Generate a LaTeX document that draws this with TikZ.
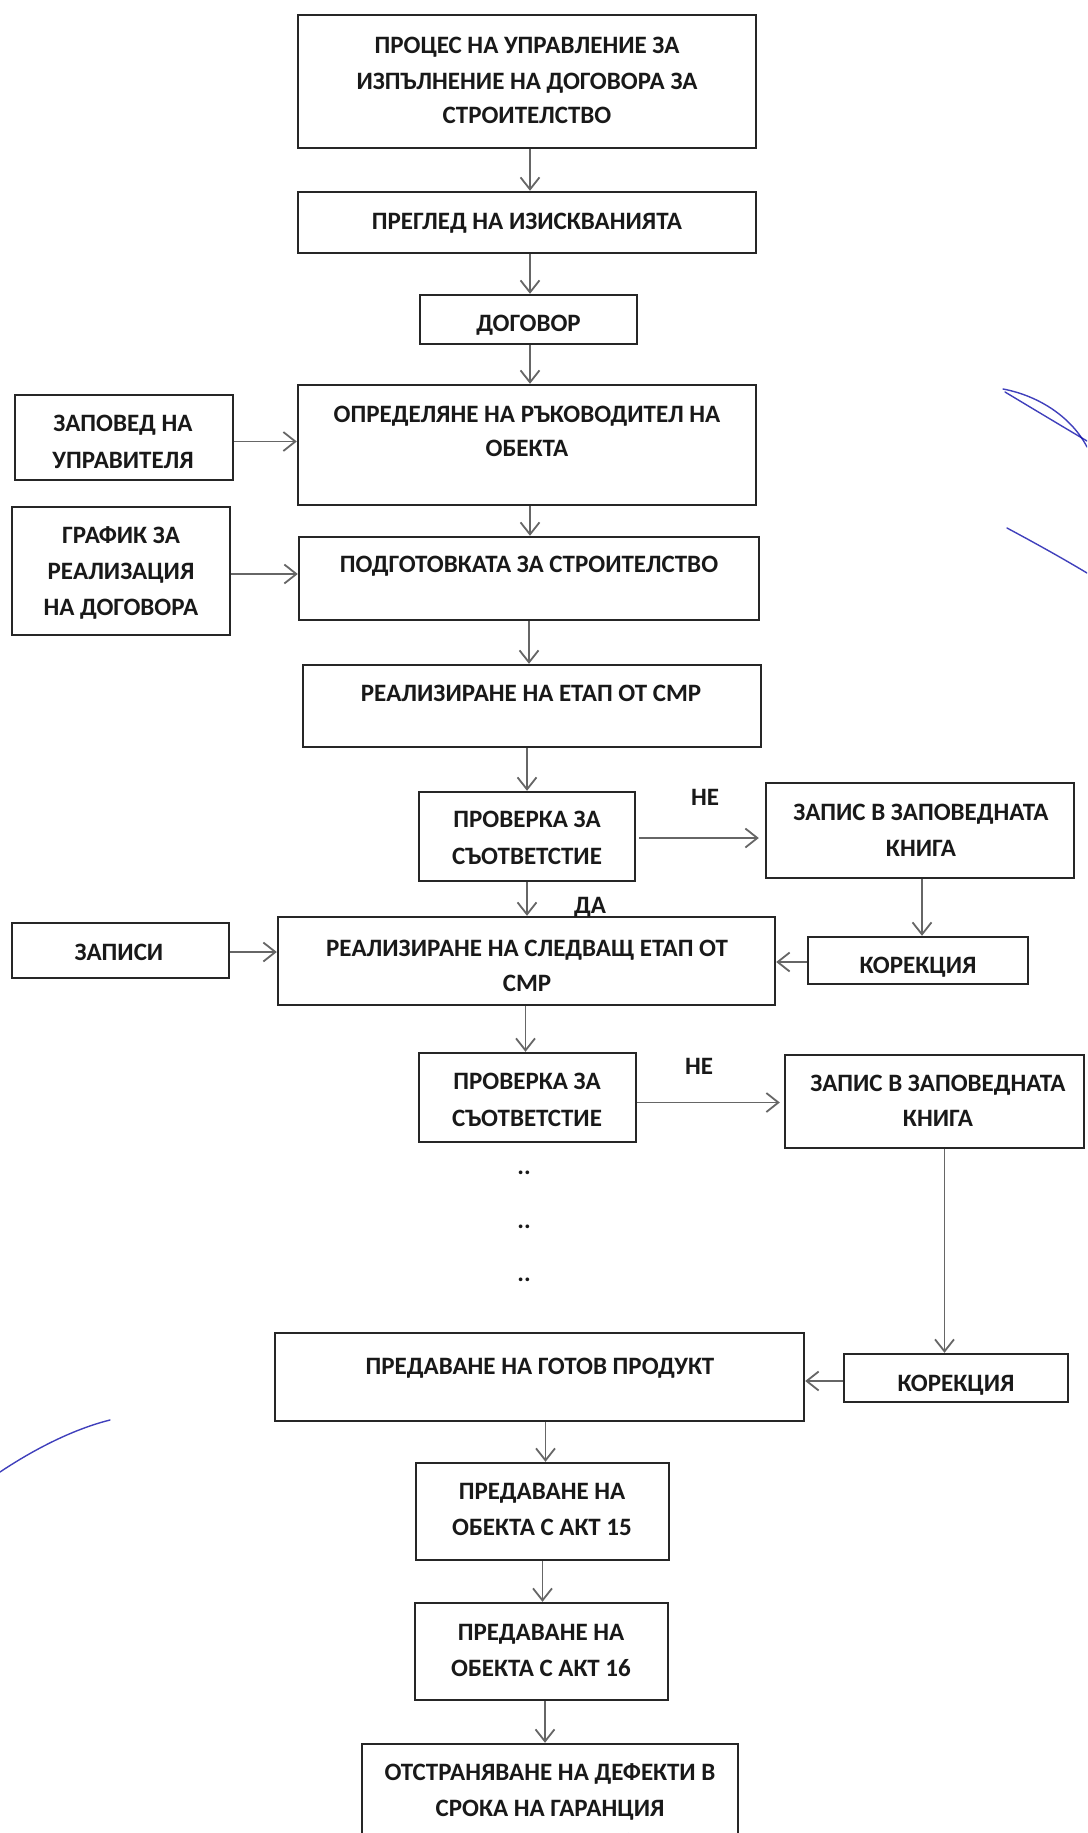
\documentclass[tikz,border=0pt]{standalone}
\usepackage{fontspec}
\setmainfont{Carlito}
\usetikzlibrary{arrows.meta}
\begin{document}
\begin{tikzpicture}[x=1pt,y=-1pt,
  box/.style={draw=black!85, line width=2.4pt, inner sep=0pt, fill=none},
  txt/.style={font=\bfseries\fontsize{25}{36}\selectfont, anchor=base, inner sep=0pt, text=black!90},
  arr/.style={draw=black!60, line width=1.8pt, -{Straight Barb[length=12pt,width=19pt,line width=1.8pt]}},
  pen/.style={draw=blue!65!black, line width=1.4pt, opacity=0.75, line cap=round}]
\useasboundingbox (0,0) rectangle (1087,1833);
\clip (0,0) rectangle (1087,1833);
\fill[white] (0,0) rectangle (1087,1833);

% boxes
\node[box, minimum width=458pt, minimum height=133pt] (b1) at (527,81.5) {};
\node[box, minimum width=458pt, minimum height=61pt]  (b2) at (527,222.5) {};
\node[box, minimum width=217pt, minimum height=49pt]  (b3) at (528.5,319.5) {};
\node[box, minimum width=458pt, minimum height=120pt] (b4) at (527,445) {};
\node[box, minimum width=218pt, minimum height=85pt]  (lA) at (124,437.5) {};
\node[box, minimum width=218pt, minimum height=128pt] (lB) at (121,571) {};
\node[box, minimum width=460pt, minimum height=83pt]  (b5) at (529,578.5) {};
\node[box, minimum width=458pt, minimum height=82pt]  (b6) at (532,706) {};
\node[box, minimum width=216pt, minimum height=89pt]  (b7) at (527,836.5) {};
\node[box, minimum width=308pt, minimum height=95pt]  (b8) at (920,830.5) {};
\node[box, minimum width=497pt, minimum height=88pt]  (b9) at (526.5,961) {};
\node[box, minimum width=217pt, minimum height=55pt]  (lC) at (120.5,950.5) {};
\node[box, minimum width=220pt, minimum height=47pt]  (k1) at (918,960.5) {};
\node[box, minimum width=217pt, minimum height=89pt]  (b11) at (527.5,1097.5) {};
\node[box, minimum width=299pt, minimum height=93pt]  (b12) at (934.5,1101.5) {};
\node[box, minimum width=529pt, minimum height=88pt]  (b13) at (539.5,1377) {};
\node[box, minimum width=224pt, minimum height=48pt]  (k2) at (956,1378) {};
\node[box, minimum width=253pt, minimum height=97pt]  (b15) at (542.5,1511.5) {};
\node[box, minimum width=253pt, minimum height=97pt]  (b16) at (541.5,1651.5) {};
\node[box, minimum width=376pt, minimum height=116pt] (b17) at (550,1802) {};

% texts
\node[txt] (t1a) at (527,54) {ПРОЦЕС НА УПРАВЛЕНИЕ ЗА};
\node[txt] (t1b) at (527,90) {ИЗПЪЛНЕНИЕ НА ДОГОВОРА ЗА};
\node[txt] (t1c) at (527,124) {СТРОИТЕЛСТВО};
\node[txt] (t2) at (527,229) {ПРЕГЛЕД НА ИЗИСКВАНИЯТА};
\node[txt] (t3) at (528.5,331) {ДОГОВОР};
\node[txt] (t4a) at (527,422) {ОПРЕДЕЛЯНЕ НА РЪКОВОДИТЕЛ НА};
\node[txt] (t4b) at (527,456) {ОБЕКТА};
\node[txt] (tAa) at (123,431) {ЗАПОВЕД НА};
\node[txt] (tAb) at (123,468) {УПРАВИТЕЛЯ};
\node[txt] (tBa) at (121,543) {ГРАФИК ЗА};
\node[txt] (tBb) at (121,579) {РЕАЛИЗАЦИЯ};
\node[txt] (tBc) at (121,615) {НА ДОГОВОРА};
\node[txt] (t5) at (529,572) {ПОДГОТОВКАТА ЗА СТРОИТЕЛСТВО};
\node[txt] (t6) at (531,701) {РЕАЛИЗИРАНЕ НА ЕТАП ОТ СМР};
\node[txt] (t7a) at (527,827) {ПРОВЕРКА ЗА};
\node[txt] (t7b) at (527,864) {СЪОТВЕТСТИЕ};
\node[txt] (t8a) at (921,820) {ЗАПИС В ЗАПОВЕДНАТА};
\node[txt] (t8b) at (921,856) {КНИГА};
\node[txt] (ne1) at (705,805) {НЕ};
\node[txt] (da) at (590,913) {ДА};
\node[txt] (t9a) at (527,956) {РЕАЛИЗИРАНЕ НА СЛЕДВАЩ ЕТАП ОТ};
\node[txt] (t9b) at (527,991) {СМР};
\node[txt] (tC) at (119,960) {ЗАПИСИ};
\node[txt] (tk1) at (918,973) {КОРЕКЦИЯ};
\node[txt] (t11a) at (527,1089) {ПРОВЕРКА ЗА};
\node[txt] (t11b) at (527,1126) {СЪОТВЕТСТИЕ};
\node[txt] (ne2) at (699,1074) {НЕ};
\node[txt] (t12a) at (938,1091) {ЗАПИС В ЗАПОВЕДНАТА};
\node[txt] (t12b) at (938,1126) {КНИГА};
\node[txt] (d1) at (524,1174) {..};
\node[txt] (d2) at (524,1228) {..};
\node[txt] (d3) at (524,1281) {..};
\node[txt] (t13) at (540,1374) {ПРЕДАВАНЕ НА ГОТОВ ПРОДУКТ};
\node[txt] (tk2) at (956,1391) {КОРЕКЦИЯ};
\node[txt] (t15a) at (542,1499) {ПРЕДАВАНЕ НА};
\node[txt] (t15b) at (542,1535) {ОБЕКТА С АКТ 15};
\node[txt] (t16a) at (541,1640) {ПРЕДАВАНЕ НА};
\node[txt] (t16b) at (541,1676) {ОБЕКТА С АКТ 16};
\node[txt] (t17a) at (550,1780) {ОТСТРАНЯВАНЕ НА ДЕФЕКТИ В};
\node[txt] (t17b) at (550,1816) {СРОКА НА ГАРАНЦИЯ};

% vertical connectors
\draw[arr] ([xshift=3pt]b1.south) -- ([xshift=3pt]b1.south |- b2.north);
\draw[arr] ([xshift=3pt]b2.south) -- ([xshift=3pt]b2.south |- b3.north);
\draw[arr] ([xshift=1.5pt]b3.south) -- ([xshift=1.5pt]b3.south |- b4.north);
\draw[arr] ([xshift=3pt]b4.south) -- ([xshift=3pt]b4.south |- b5.north);
\draw[arr] (b5.south) -- (b5.south |- b6.north);
\draw[arr] (b7.north |- b6.south) -- (b7.north);
\draw[arr] (b7.south) -- (b7.south |- b9.north);
\draw[arr] ([xshift=-2pt]b11.north |- b9.south) -- ([xshift=-2pt]b11.north);
\draw[arr] ([xshift=2pt]b8.south) -- ([xshift=2pt]b8.south |- k1.north);
\draw[arr] ([xshift=10pt]b12.south) -- ([xshift=10pt]b12.south |- k2.north);
\draw[arr] ([xshift=3pt]b15.north |- b13.south) -- ([xshift=3pt]b15.north);
\draw[arr] (b15.south) -- (b15.south |- b16.north);
\draw[arr] ([xshift=-5pt]b17.north |- b16.south) -- ([xshift=-5pt]b17.north);

% horizontal connectors
\draw[arr] ([yshift=-4pt]lA.east) -- ([yshift=-4pt]lA.east -| b4.west);
\draw[arr] ([yshift=-3pt]lB.east) -- ([yshift=-3pt]lB.east -| b5.west);
\draw[arr, shorten >=6pt] ([yshift=-1.5pt,xshift=3pt]b7.east) -- ([yshift=-1.5pt]b7.east -| b8.west);
\draw[arr] ([yshift=-1.5pt]lC.east) -- ([yshift=-1.5pt]lC.east -| b9.west);
\draw[arr] ([yshift=-1.5pt]k1.west) -- ([yshift=-1.5pt]k1.west -| b9.east);
\draw[arr, shorten >=4pt] ([yshift=-5pt]b11.east) -- ([yshift=-5pt]b11.east -| b12.west);
\draw[arr] ([yshift=-3pt]k2.west) -- ([yshift=-3pt]k2.west -| b13.east);

% blue pen strokes of the scan
\draw[pen] (1003,389) .. controls (1040,396) and (1072,418) .. (1087,447);
\draw[pen] (1005,392) .. controls (1035,410) and (1065,428) .. (1087,441);
\draw[pen] (1007,528) .. controls (1035,543) and (1062,558) .. (1087,573);
\draw[pen] (0,1472) .. controls (30,1452) and (70,1430) .. (110,1420);
\draw[draw=blue!35, line width=1.2pt, opacity=0.6] (628,1833) arc[start angle=160, end angle=60, radius=95];
\end{tikzpicture}
\end{document}
